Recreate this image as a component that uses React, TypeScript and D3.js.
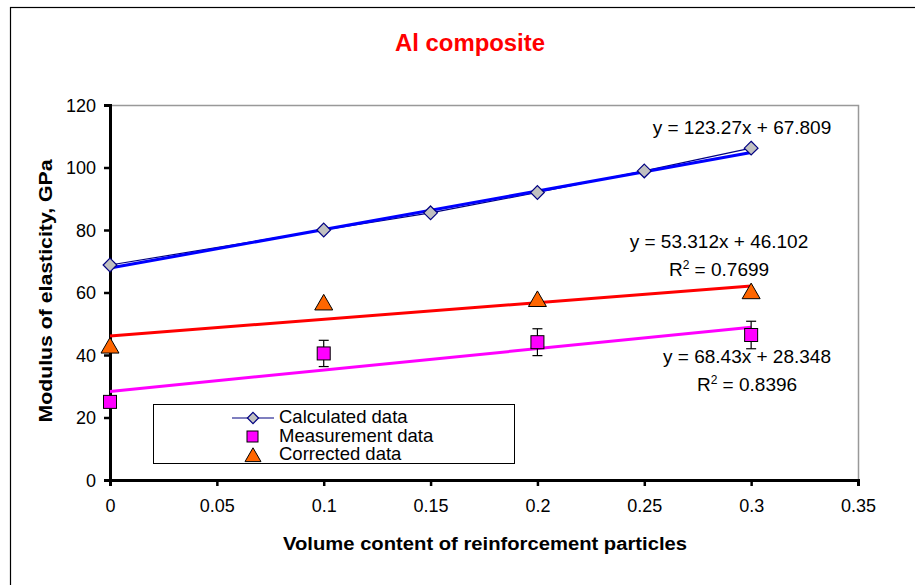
import * as d3 from 'd3';
import React, { useEffect, useRef } from 'react';

// volume fractions
const calcX = [0, 0.1, 0.15, 0.2, 0.25, 0.3];
const calcY = [68.8, 80, 85.5, 92, 98.9, 106.2];

const measX = [0, 0.1, 0.2, 0.3];
const measY = [25, 40.5, 44.1, 46.4];
const measErr = [1, 4.2, 4.3, 4.4];

const corrX = [0, 0.1, 0.2, 0.3];
const corrY = [42.6, 56.4, 57.5, 60];

// trend lines: [slope, intercept]
const calcTrend = [123.27, 67.809];
const corrTrend = [53.312, 46.102];
const measTrend = [68.43, 28.348];

const xTicks = [0, 0.05, 0.1, 0.15, 0.2, 0.25, 0.3, 0.35];
const yTicks = [0, 20, 40, 60, 80, 100, 120];

const legendLabels = ['Calculated data', 'Measurement data', 'Corrected data'];

const FONT = '"Liberation Sans", Arial, sans-serif';

/**
 * Al composite chart.
 */
export default function App() {
    const ref = useRef<SVGSVGElement>(null);

    useEffect(() => {
        const svg = d3.select(ref.current);
        svg.selectAll('*').remove();

        const x = d3.scaleLinear().domain([ 0, 0.35 ]).range([ 110, 858 ]);
        const y = d3.scaleLinear().domain([ 0, 120 ]).range([ 480, 105 ]);

        svg.append('rect')
            .attr('width', 915).attr('height', 585).attr('fill', '#fff');

        // outer frame
        svg.append('rect')
            .attr('x', 10.5).attr('y', 7.5)
            .attr('width', 920).attr('height', 600)
            .attr('fill', 'none').attr('stroke', '#000').attr('stroke-width', 1.2);

        // plot area border (top / right)
        svg.append('path')
            .attr('d', `M${x(0)},${y(120) + 0.5}H${x(0.35) + 0.5}V${y(0)}`)
            .attr('fill', 'none').attr('stroke', '#999').attr('stroke-width', 1.5);

        svg.append('text')
            .attr('x', 470).attr('y', 51)
            .attr('text-anchor', 'middle')
            .attr('font-family', FONT).attr('font-weight', 'bold')
            .attr('font-size', 23).attr('fill', '#ff0000')
            .attr('textLength', 150).attr('lengthAdjust', 'spacingAndGlyphs')
            .text('Al composite');

        // axes
        const xAxis = d3.axisBottom(x).tickValues(xTicks).tickSize(6)
            .tickFormat(d => `${+(+d).toFixed(2)}`);
        const yAxis = d3.axisLeft(y).tickValues(yTicks).tickSize(6);

        const gx = svg.append('g').attr('transform', `translate(0,${y(0)})`).call(xAxis);
        const gy = svg.append('g').attr('transform', `translate(${x(0)},0)`).call(yAxis);
        [ gx, gy ].forEach(g => {
            g.select('.domain').attr('stroke', '#000').attr('stroke-width', 3);
            g.selectAll('.tick line').attr('stroke', '#000').attr('stroke-width', 2.5);
            g.selectAll('.tick text')
                .attr('font-family', FONT).attr('font-size', 18).attr('fill', '#000');
        });
        gx.selectAll('.tick text').attr('y', 32).attr('dy', 0);
        gy.selectAll('.tick text').attr('x', -14).attr('dy', '0.36em');

        svg.append('text')
            .attr('x', 485).attr('y', 550)
            .attr('text-anchor', 'middle')
            .attr('font-family', FONT).attr('font-weight', 'bold').attr('font-size', 17.5)
            .attr('textLength', 404).attr('lengthAdjust', 'spacingAndGlyphs')
            .text('Volume content of reinforcement particles');

        svg.append('text')
            .attr('transform', `translate(52,${291}) rotate(-90)`)
            .attr('text-anchor', 'middle')
            .attr('font-family', FONT).attr('font-weight', 'bold').attr('font-size', 17.5)
            .attr('textLength', 263).attr('lengthAdjust', 'spacingAndGlyphs')
            .text('Modulus of elasticity, GPa');

        // trend lines
        const trend = (t: number[], color: string, w: number) => {
            svg.append('line')
                .attr('x1', x(0)).attr('y1', y(t[1]))
                .attr('x2', x(0.3)).attr('y2', y(t[0] * 0.3 + t[1]))
                .attr('stroke', color).attr('stroke-width', w);
        };
        trend(corrTrend, '#ff0000', 3);
        trend(measTrend, '#ff00ff', 3);

        // calculated data line
        const calc = calcX.map((v, i) => [ v, calcY[i] ] as [number, number]);
        svg.append('path')
            .attr('d', d3.line().x(d => x(d[0])).y(d => y(d[1]))(calc))
            .attr('fill', 'none').attr('stroke', '#000080').attr('stroke-width', 1.2);
        trend(calcTrend, '#0000ff', 3);

        const diamond = d3.symbol().type(d3.symbolDiamond2).size(120);
        svg.append('g').selectAll('path')
            .data(calc).enter().append('path')
            .attr('transform', d => `translate(${x(d[0])},${y(d[1])})`)
            .attr('d', diamond())
            .attr('fill', '#c0c0c0').attr('stroke', '#000080').attr('stroke-width', 1.2);

        // error bars
        const eb = svg.append('g').attr('stroke', '#000').attr('stroke-width', 1.2);
        measX.forEach((v, i) => {
            const cx = x(v);
            eb.append('line').attr('x1', cx).attr('x2', cx)
                .attr('y1', y(measY[i] - measErr[i])).attr('y2', y(measY[i] + measErr[i]));
            [ -1, 1 ].forEach(s => {
                eb.append('line').attr('x1', cx - 5).attr('x2', cx + 5)
                    .attr('y1', y(measY[i] + s * measErr[i])).attr('y2', y(measY[i] + s * measErr[i]));
            });
        });

        svg.append('g').selectAll('rect')
            .data(measX).enter().append('rect')
            .attr('x', d => x(d) - 6.5)
            .attr('y', (_, i) => y(measY[i]) - 6.5)
            .attr('width', 13).attr('height', 13)
            .attr('fill', '#ff00ff').attr('stroke', '#000').attr('stroke-width', 1);

        const tri = d3.symbol().type(d3.symbolTriangle).size(140);
        svg.append('g').selectAll('path')
            .data(corrX).enter().append('path')
            .attr('transform', (d, i) => `translate(${x(d)},${y(corrY[i]) + 1})`)
            .attr('d', tri())
            .attr('fill', '#ff6600').attr('stroke', '#000').attr('stroke-width', 1);

        // equations
        const label = (tx: number, ty: number, txt: string, r2?: string) => {
            const t = svg.append('text')
                .attr('x', tx).attr('y', ty)
                .attr('text-anchor', 'middle')
                .attr('font-family', FONT).attr('font-size', 19);
            if (r2) {
                t.append('tspan').text('R');
                t.append('tspan').attr('dy', -7).attr('font-size', 12).text('2');
                t.append('tspan').attr('dy', 7).text(` = ${r2}`);
            } else {
                t.text(txt);
            }
        };
        label(742, 134, 'y = 123.27x + 67.809');
        label(719, 248, 'y = 53.312x + 46.102');
        label(719, 276, '', '0.7699');
        label(747, 363, 'y = 68.43x + 28.348');
        label(747, 391, '', '0.8396');

        // legend
        const lg = svg.append('g');
        lg.append('rect')
            .attr('x', 153.5).attr('y', 404.5).attr('width', 361).attr('height', 59)
            .attr('fill', '#fff').attr('stroke', '#000').attr('stroke-width', 1);
        const rowY = [ 418, 436.5, 455 ];
        const smallDiamond = d3.symbol().type(d3.symbolDiamond2).size(80);
        lg.append('line')
            .attr('x1', 232).attr('x2', 274).attr('y1', rowY[0]).attr('y2', rowY[0])
            .attr('stroke', '#000080').attr('stroke-width', 1.2);
        lg.append('path')
            .attr('transform', `translate(253,${rowY[0]})`)
            .attr('d', smallDiamond())
            .attr('fill', '#c0c0c0').attr('stroke', '#000080').attr('stroke-width', 1.2);
        lg.append('rect')
            .attr('x', 247).attr('y', rowY[1] - 5.5).attr('width', 11).attr('height', 11)
            .attr('fill', '#ff00ff').attr('stroke', '#000');
        lg.append('path')
            .attr('transform', `translate(253,${rowY[2] + 2})`)
            .attr('d', d3.symbol().type(d3.symbolTriangle).size(110)())
            .attr('fill', '#ff6600').attr('stroke', '#000');
        legendLabels.forEach((l, i) => {
            lg.append('text')
                .attr('x', 279).attr('y', rowY[i] + 5)
                .attr('font-family', FONT).attr('font-size', 18.5)
                .text(l);
        });
    }, []);

    return (
        <svg ref={ref} width={915} height={585}
            style={{ position: 'absolute', left: 0, top: 0, display: 'block' }} />
    );
}
